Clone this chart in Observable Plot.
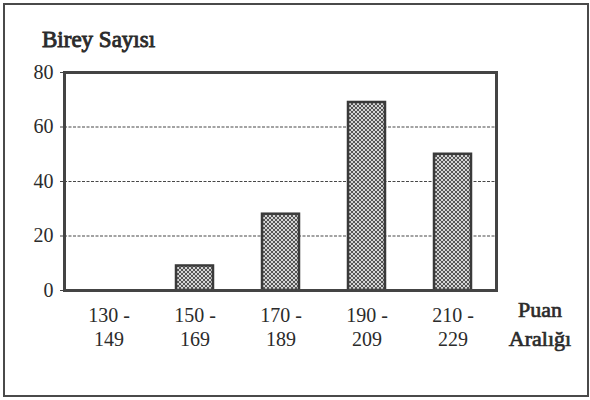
<!DOCTYPE html>
<html>
<head>
<meta charset="utf-8">
<script src="https://cdn.jsdelivr.net/npm/d3@7"></script>
<script src="https://cdn.jsdelivr.net/npm/@observablehq/plot@0.6"></script>
<style>
  html, body { margin: 0; padding: 0; background: #fff; }
  #wrap { position: relative; width: 590px; height: 400px; }
  #wrap svg { position: absolute; left: 0; top: 0; }
  #border { position: absolute; left: 3px; top: 3px; width: 582px; height: 390px;
            border: 2px solid #4a4a4a; pointer-events: none; }
  .ttl { position: absolute; font-family: 'Liberation Serif', serif; color: #2b2b2b; white-space: nowrap; }
  #ytitle { left: 42px; top: 28px; font-size: 23px; line-height: 23px; -webkit-text-stroke: 0.9px #2b2b2b; }
  #xtitle { left: 490px; top: 295px; width: 100px; text-align: center; font-size: 22px; line-height: 29px;
            -webkit-text-stroke: 0.7px #2b2b2b; }
</style>
</head>
<body>
<div id="wrap">
  <div id="border"></div>
  <div id="ytitle" class="ttl"></div>
  <div id="xtitle" class="ttl"></div>
</div>
<script>
const categories = ["130-149", "150-169", "170-189", "190-209", "210-229"];
const counts = [0, 9, 28, 69, 50];
const tickTop = ["130 -", "150 -", "170 -", "190 -", "210 -"];
const tickBottom = ["149", "169", "189", "209", "229"];
const yTicks = [0, 20, 40, 60, 80];
const yTitle = "Birey Sayısı";
const xTitleLines = ["Puan", "Aralığı"];

const data = categories.map((c, i) => ({category: c, count: counts[i]}));
const topOf = new Map(categories.map((c, i) => [c, tickTop[i]]));
const bottomOf = new Map(categories.map((c, i) => [c, tickBottom[i]]));
const serif = "Liberation Serif";

document.getElementById("ytitle").textContent = yTitle;
const xt = document.getElementById("xtitle");
xTitleLines.forEach((t, i) => { if (i) xt.appendChild(document.createElement("br")); xt.appendChild(document.createTextNode(t)); });

const chart = Plot.plot({
  width: 590,
  height: 400,
  marginLeft: 64,
  marginRight: 94,
  marginTop: 72,
  marginBottom: 110,
  style: "font-family: 'Liberation Serif'; font-size: 20px; color: #2b2b2b; background: transparent;",
  x: {domain: categories, paddingInner: 0.57, paddingOuter: 0.285, label: null},
  y: {domain: [0, 80], ticks: yTicks, label: null},
  marks: [
    Plot.gridY(yTicks.filter(d => d > 0 && d < 80), {stroke: "#333", strokeOpacity: 0.9, strokeDasharray: "3,1.5", strokeWidth: 1}),
    Plot.barY(data, {x: "category", y: "count", fill: "url(#hatch)", stroke: "#3a3a3a", strokeWidth: 2.5,
                     filter: d => d.count > 0}),
    Plot.frame({stroke: "#444", strokeWidth: 3}),
    Plot.axisY({ticks: yTicks, tickSize: 4, tickPadding: 7, fontSize: 20, fontFamily: serif,
                fontVariant: "normal", stroke: "#444", label: null}),
    Plot.axisX({tickSize: 0, tickPadding: 17, fontSize: 20, fontFamily: serif, fontVariant: "normal",
                tickFormat: d => topOf.get(d), label: null}),
    Plot.axisX({tickSize: 0, tickPadding: 41, fontSize: 20, fontFamily: serif, fontVariant: "normal",
                tickFormat: d => bottomOf.get(d), label: null})
  ]
});

const svg = d3.select(chart);
svg.selectAll("text").style("font-family", "'Liberation Serif', serif").style("font-variant", "normal");

// hatch pattern definition
const defs = svg.insert("defs", ":first-child");
const pat = defs.append("pattern").attr("id", "hatch").attr("patternUnits", "userSpaceOnUse")
  .attr("width", 4).attr("height", 4);
pat.append("rect").attr("width", 4).attr("height", 4).attr("fill", "#d4d4d4");
pat.append("path").attr("d", "M0,0 L4,4 M4,0 L0,4").attr("stroke", "#555").attr("stroke-width", 1);

document.getElementById("wrap").prepend(chart);
</script>
</body>
</html>
